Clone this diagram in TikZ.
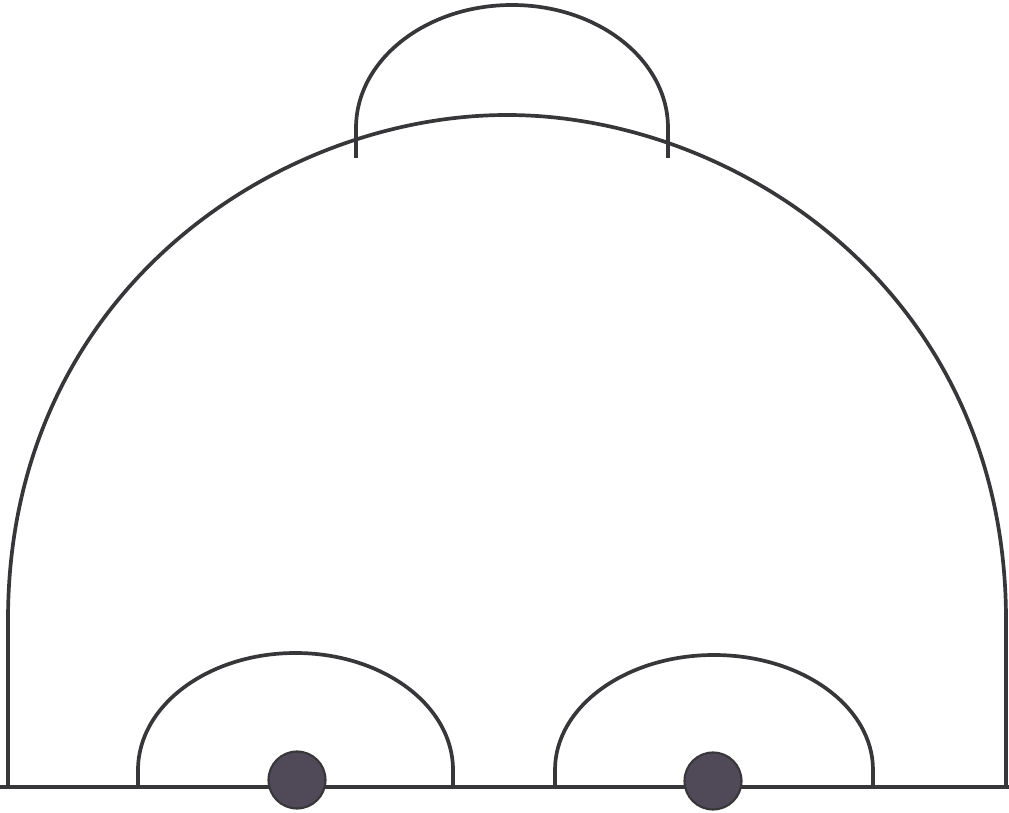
\documentclass[tikz,border=0pt]{standalone}
\usepackage{tikz}
\usetikzlibrary{positioning}
\definecolor{inkgray}{RGB}{55, 55, 58}
\definecolor{dotgray}{RGB}{80, 74, 88}
\tikzset{
  outline/.style={draw=inkgray, line width=1.05pt, line join=round},
  pellet/.style={fill=dotgray, draw=inkgray, line width=0.6pt}
}

\begin{document}
\begin{tikzpicture}[x=0.01cm, y=0.01cm]
  \useasboundingbox[fill=white] (0,0) rectangle (1009,812);
  % Ground line
  \coordinate (gl) at (0,25);
  \coordinate (gr) at (1009,25);
  \draw[outline] (gl) -- (gr);
  % Big dome
  \draw[outline] (8,25) -- (8,192)
        .. controls (8,522) and (280,697) .. (507,697)
        .. controls (734,697) and (1006,522) .. (1006,192) -- (1006,25);
  % Cap on top
  \draw[outline] (356,654) -- (356,684)
        arc[start angle=180, end angle=0, x radius=156, y radius=123] -- (668,654);
  % Two small domes
  \draw[outline] (138,25) -- (138,42)
        arc[start angle=180, end angle=0, x radius=157.5, y radius=117] -- (453,25);
  \draw[outline] (555,25) -- (555,42)
        arc[start angle=180, end angle=0, x radius=159, y radius=115] -- (873,25);
  % Dots on the ground
  \foreach \cx/\cy in {297/32, 713/31}{
    \path[pellet] (\cx,\cy) circle[radius=28.5];
  }
\end{tikzpicture}
\end{document}
